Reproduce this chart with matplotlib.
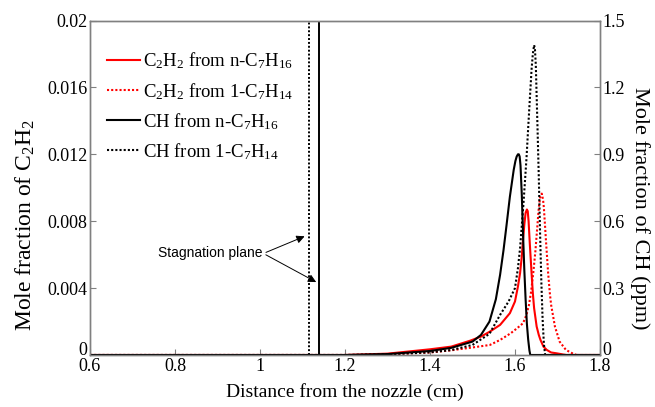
import matplotlib
matplotlib.use("Agg")
import matplotlib.pyplot as plt
from matplotlib.transforms import ScaledTranslation

plt.rcParams['font.family'] = ['Liberation Serif', 'DejaVu Serif']
plt.rcParams['mathtext.fontset'] = 'custom'
plt.rcParams['mathtext.rm'] = 'Liberation Serif'
plt.rcParams['mathtext.it'] = 'Liberation Serif:italic'

# ---- data ----
c2h2_n_x = [0.60, 1.20, 1.30, 1.40, 1.45, 1.494, 1.52, 1.541, 1.565, 1.588, 1.600, 1.607, 1.612,
            1.616, 1.619, 1.622, 1.625, 1.628, 1.630, 1.632, 1.635, 1.639, 1.642, 1.645, 1.651,
            1.656, 1.660, 1.667, 1.675, 1.685, 1.698, 1.72, 1.80]
c2h2_n_y = [0.0, 0.0, 0.00008, 0.00034, 0.0005, 0.00085, 0.0011, 0.0014, 0.0018, 0.0025, 0.0032, 0.0041, 0.0049,
            0.0059, 0.0069, 0.0078, 0.0085, 0.0087, 0.0086, 0.0080, 0.0066, 0.0049, 0.0037, 0.0028, 0.0017,
            0.0012, 0.0009, 0.0005, 0.0003, 0.00015, 0.0001, 0.0, 0.0]

c2h2_1_x = [0.60, 1.20, 1.30, 1.40, 1.45, 1.50, 1.541, 1.565, 1.59, 1.605, 1.619, 1.627, 1.633, 1.638,
            1.643, 1.648, 1.652, 1.656, 1.659, 1.663, 1.666, 1.668, 1.673, 1.678, 1.682, 1.685, 1.694,
            1.705, 1.72, 1.735, 1.745, 1.80]
c2h2_1_y = [0.0, 0.0, 0.00003, 0.00015, 0.00028, 0.00045, 0.0006, 0.0009, 0.0013, 0.0016, 0.0019, 0.0024, 0.0030, 0.0038,
            0.0049, 0.0062, 0.0075, 0.0088, 0.0094, 0.00965, 0.0093, 0.0088, 0.0068, 0.0049, 0.0037, 0.0030, 0.0017,
            0.0008, 0.0003, 0.0001, 0.0, 0.0]

ch_n_x = [0.60, 1.20, 1.30, 1.40, 1.45, 1.50, 1.52, 1.54, 1.555, 1.565, 1.573, 1.58, 1.588,
          1.597, 1.601, 1.604, 1.607, 1.609, 1.611, 1.613, 1.616, 1.619, 1.622, 1.625, 1.628,
          1.631, 1.634, 1.636, 1.80]
ch_n_y = [0.0, 0.0, 0.004, 0.018, 0.032, 0.06, 0.09, 0.15, 0.25, 0.36, 0.47, 0.58, 0.71,
          0.83, 0.87, 0.89, 0.90, 0.90, 0.89, 0.85, 0.72, 0.54, 0.38, 0.25, 0.14,
          0.07, 0.02, 0.0, 0.0]

ch_1_x = [0.60, 1.20, 1.30, 1.40, 1.45, 1.50, 1.54, 1.565, 1.585, 1.600, 1.607, 1.612, 1.620, 1.627,
          1.632, 1.635, 1.639, 1.642, 1.645, 1.647, 1.649, 1.653, 1.656, 1.659, 1.662, 1.665,
          1.668, 1.671, 1.80]
ch_1_y = [0.0, 0.0, 0.003, 0.012, 0.022, 0.045, 0.095, 0.18, 0.24, 0.30, 0.39, 0.48, 0.68, 0.88,
          1.05, 1.15, 1.28, 1.35, 1.39, 1.37, 1.30, 1.02, 0.80, 0.55, 0.33, 0.16,
          0.05, 0.0, 0.0]

stag_n = 1.139
stag_1 = 1.115

labels = [r'C$_\mathrm{2}$H$_\mathrm{2}$ from n-C$_\mathrm{7}$H$_\mathrm{16}$',
          r'C$_\mathrm{2}$H$_\mathrm{2}$ from 1-C$_\mathrm{7}$H$_\mathrm{14}$',
          r'CH from n-C$_\mathrm{7}$H$_\mathrm{16}$',
          r'CH from 1-C$_\mathrm{7}$H$_\mathrm{14}$']

# ---- plot ----
fig = plt.figure(figsize=(6.55, 4.07), dpi=100)
ax = fig.add_axes([0.1374, 0.1278, 0.7786, 0.8218])
ax2 = ax.twinx()

dot = (0, (1, 1))
l1, = ax.plot(c2h2_n_x, c2h2_n_y, color='#ff0000', lw=1.5)
l2, = ax.plot(c2h2_1_x, c2h2_1_y, color='#ff0000', lw=1.5, ls=dot)
l3, = ax2.plot(ch_n_x, ch_n_y, color='black', lw=1.5)
l4, = ax2.plot(ch_1_x, ch_1_y, color='black', lw=1.5, ls=dot)

ax.axvline(stag_1, color='black', lw=1.4, ls=dot)
ax.axvline(stag_n, color='black', lw=1.4)

ax.set_xlim(0.6, 1.8)
ax.set_ylim(0, 0.02)
ax2.set_ylim(0, 1.5)
ax.set_xticks([0.6, 0.8, 1.0, 1.2, 1.4, 1.6, 1.8])
ax.set_xticklabels(['0.6', '0.8', '1', '1.2', '1.4', '1.6', '1.8'])
ax.set_yticks([0, 0.004, 0.008, 0.012, 0.016, 0.02])
ax.set_yticklabels(['0', '0.004', '0.008', '0.012', '0.016', '0.02'])
ax2.set_yticks([0, 0.3, 0.6, 0.9, 1.2, 1.5])
ax2.set_yticklabels(['0', '0.3', '0.6', '0.9', '1.2', '1.5'])

for a in (ax, ax2):
    for s in a.spines.values():
        s.set_color('#808080')
        s.set_linewidth(1.0)
    a.tick_params(direction='in', length=4, width=0.8, color='#808080', labelsize=13, pad=2)

# lift the two "0" labels slightly so they sit above the x tick labels
shift = ScaledTranslation(0, 5 / 72, fig.dpi_scale_trans)
for lab in (ax.get_yticklabels()[0], ax2.get_yticklabels()[0]):
    lab.set_transform(lab.get_transform() + shift)

ax.set_xlabel('Distance from the nozzle (cm)', fontsize=14, labelpad=6)
ax.set_ylabel(r'Mole fraction of C$_\mathrm{2}$H$_\mathrm{2}$', fontsize=17, labelpad=5)
ax.yaxis.set_label_coords(-0.103, 0.39)
ax2.set_ylabel('Mole fraction of CH (ppm)', fontsize=16, rotation=-90, labelpad=20)
ax2.yaxis.set_label_coords(1.097, 0.44)

ax.legend([l1, l2, l3, l4], labels, loc='upper left', bbox_to_anchor=(0.0, 0.96),
          frameon=False, fontsize=13.5, handlelength=1.75, handletextpad=0.2,
          labelspacing=0.5)

ax.annotate('', xy=(stag_1 - 0.004, 0.00716), xytext=(1.008, 0.00607),
            arrowprops=dict(arrowstyle='-|>', color='black', lw=0.7, mutation_scale=12))
ax.annotate('', xy=(stag_n - 0.001, 0.00428), xytext=(1.008, 0.00607),
            arrowprops=dict(arrowstyle='-|>', color='black', lw=0.7, mutation_scale=12))
ax.text(1.005, 0.00607, 'Stagnation plane', ha='right', va='center',
        fontsize=10, family=['Liberation Sans', 'DejaVu Sans'])

fig.savefig('out.png', dpi=100)
